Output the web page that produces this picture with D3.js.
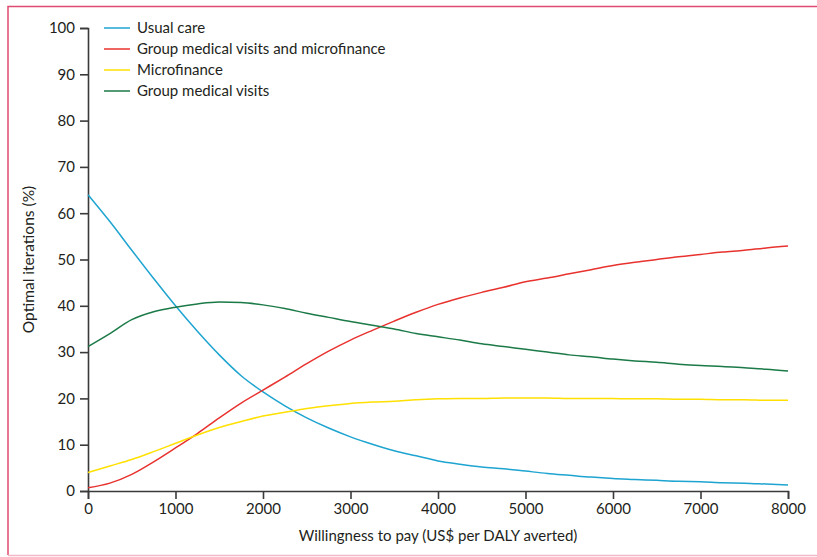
<!DOCTYPE html>
<html lang="en">
<head>
<meta charset="UTF-8">
<title>Optimal iterations by willingness to pay</title>
<script src="https://d3js.org/d3.v7.min.js"></script>
<style>
    body { margin: 0; background: #fff; }
    text { font-family: Lato, "Open Sans", sans-serif; fill: #231f20; }
    .axis text { font-size: 15px; fill: #231f20; }
    .axis path, .axis line { stroke: #3a3a3a; stroke-width: 1.6; }
</style>
</head>
<body>
<svg width="817" height="557"></svg>
<script>
    // willingness to pay, US$ per DALY averted
    const wtp = [0, 250, 500, 750, 1000, 1250, 1500, 1750, 2000, 2250, 2500, 2750, 3000, 3250, 3500, 3750,
        4000, 4250, 4500, 4750, 5000, 5250, 5500, 5750, 6000, 6250, 6500, 6750, 7000, 7250, 7500, 7750, 8000];

    const usualCare = [64, 58.2, 52.0, 45.9, 40.0, 34.5, 29.4, 24.9, 21.4, 18.4, 15.8, 13.6, 11.7, 10.1, 8.7, 7.6,
        6.5, 5.8, 5.2, 4.8, 4.3, 3.8, 3.4, 3.0, 2.7, 2.5, 2.3, 2.1, 2.0, 1.8, 1.7, 1.5, 1.3];
    const gmvMicro = [0.7, 1.7, 3.6, 6.3, 9.3, 12.4, 15.8, 19.0, 21.8, 24.6, 27.5, 30.2, 32.6, 34.7, 36.7, 38.6,
        40.3, 41.7, 42.9, 44.0, 45.2, 46.0, 46.9, 47.8, 48.7, 49.4, 50.0, 50.6, 51.1, 51.6, 52.0, 52.5, 52.9];
    const microfinance = [4.0, 5.4, 6.8, 8.5, 10.3, 12.1, 13.7, 15.0, 16.2, 17.0, 17.8, 18.4, 18.9, 19.2, 19.4, 19.7,
        19.9, 20.0, 20.0, 20.1, 20.1, 20.1, 20.0, 20.0, 20.0, 19.9, 19.9, 19.8, 19.8, 19.7, 19.7, 19.6, 19.6];
    const gmv = [31.2, 34.0, 37.0, 38.7, 39.7, 40.4, 40.8, 40.7, 40.2, 39.4, 38.4, 37.5, 36.6, 35.8, 35.0, 34.0,
        33.3, 32.6, 31.8, 31.2, 30.6, 30.0, 29.4, 29.0, 28.5, 28.1, 27.8, 27.4, 27.1, 26.9, 26.6, 26.3, 25.9];

    const seriesNames = ["Usual care", "Group medical visits and microfinance", "Microfinance", "Group medical visits"];
    const seriesValues = [usualCare, gmvMicro, microfinance, gmv];
    const colors = ["#1ea4d0", "#e8322e", "#ffe000", "#1b7a47"];

    const xTicks = [0, 1000, 2000, 3000, 4000, 5000, 6000, 7000, 8000];
    const yTicks = [0, 10, 20, 30, 40, 50, 60, 70, 80, 90, 100];

    const margin = { top: 28, right: 29, bottom: 66, left: 88 };
    const width = 817, height = 557;

    const svg = d3.select("svg");

    // frame
    svg.append("path")
        .attr("d", `M8,555V6.5H817`)
        .attr("fill", "none")
        .attr("stroke", "#df4a6f")
        .attr("stroke-width", 1.5);
    svg.append("line")
        .attr("x1", 8).attr("x2", 817).attr("y1", 555.5).attr("y2", 555.5)
        .attr("stroke", "#f3b7c7")
        .attr("stroke-width", 1.5);

    const x = d3.scaleLinear()
        .domain([0, 8000])
        .range([margin.left, width - margin.right]);

    const y = d3.scaleLinear()
        .domain([0, 100])
        .range([height - margin.bottom, margin.top]);

    svg.append("g")
        .attr("class", "axis")
        .attr("transform", `translate(0,${y(0)})`)
        .call(d3.axisBottom(x).tickValues(xTicks).tickSize(8).tickPadding(4).tickFormat(d3.format("d")));

    svg.append("g")
        .attr("class", "axis")
        .attr("transform", `translate(${x(0)},0)`)
        .call(d3.axisLeft(y).tickValues(yTicks).tickSize(8).tickPadding(5));

    svg.append("text")
        .attr("x", (x(0) + x(8000)) / 2)
        .attr("y", 541)
        .attr("text-anchor", "middle")
        .attr("font-size", 15)
        .text("Willingness to pay (US$ per DALY averted)");

    svg.append("text")
        .attr("transform", `translate(34,${(y(0) + y(100)) / 2}) rotate(-90)`)
        .attr("text-anchor", "middle")
        .attr("font-size", 15.5)
        .text("Optimal iterations (%)");

    const line = d3.line()
        .x((d, i) => x(wtp[i]))
        .y(d => y(d))
        .curve(d3.curveMonotoneX);

    svg.selectAll(".series")
        .data(seriesValues)
        .enter().append("path")
        .attr("class", "series")
        .attr("fill", "none")
        .attr("stroke", (d, i) => colors[i])
        .attr("stroke-width", 1.5)
        .attr("d", line);

    // legend
    const legend = svg.selectAll(".legend")
        .data(seriesNames)
        .enter().append("g")
        .attr("class", "legend")
        .attr("transform", (d, i) => `translate(104,${28 + i * 21})`);

    legend.append("line")
        .attr("x1", 0).attr("x2", 26)
        .attr("stroke", (d, i) => colors[i])
        .attr("stroke-width", 1.5);

    legend.append("text")
        .attr("x", 33)
        .attr("dy", "0.35em")
        .attr("font-size", 15)
        .text(d => d);
</script>
</body>
</html>
